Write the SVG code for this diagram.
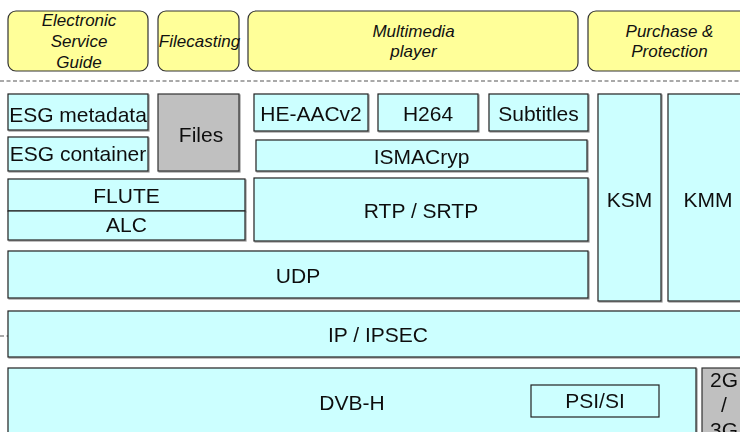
<svg xmlns="http://www.w3.org/2000/svg" width="740" height="432" viewBox="0 0 740 432">
<defs>
<style>
.hdr{fill:#FFFF99;stroke:#333;stroke-width:1.2}
.blk{fill:#CCFFFF;stroke:#222;stroke-width:1.2}
.gry{fill:#C0C0C0;stroke:#333;stroke-width:1.2}
.ht{font-family:"Liberation Sans",Arial,sans-serif;font-size:17px;font-style:italic;fill:#111;text-anchor:middle}
.bt{font-family:"Liberation Sans",Arial,sans-serif;font-size:21px;fill:#111;text-anchor:middle}
.sep{stroke:#555;stroke-width:1.2;stroke-dasharray:4 2.5;fill:none}
</style>
<filter id="sh" x="-5%" y="-5%" width="110%" height="115%">
<feDropShadow dx="1" dy="1" stdDeviation="0.3" flood-color="#777" flood-opacity="0.8"/>
</filter>
</defs>
<rect width="740" height="432" fill="#fff"/>

<g id="connectors">
<line class="sep" x1="0" y1="81" x2="740" y2="81"/>
<line class="sep" x1="0" y1="336" x2="8" y2="336"/>
</g>

<g id="esg-app"><rect class="hdr" x="8" y="11" width="140" height="60" rx="8"/><text class="ht" x="79" y="26">Electronic</text><text class="ht" x="79" y="47">Service</text><text class="ht" x="79" y="68">Guide</text></g>
<g id="filecasting-app"><rect class="hdr" x="158" y="11" width="81" height="60" rx="8"/><text class="ht" x="199.5" y="47">Filecasting</text></g>
<g id="multimedia-app"><rect class="hdr" x="248" y="11" width="330" height="60" rx="8"/><text class="ht" x="413.5" y="36.5">Multimedia</text><text class="ht" x="413.5" y="57">player</text></g>
<g id="purchase-app"><rect class="hdr" x="588" y="11" width="163" height="60" rx="8"/><text class="ht" x="669.5" y="36.5">Purchase &amp;</text><text class="ht" x="669.5" y="57">Protection</text></g>

<g filter="url(#sh)">
<g id="esg-metadata"><rect class="blk" x="8" y="94" width="140" height="36"/><text class="bt" x="78" y="122">ESG metadata</text></g>
<g id="esg-container"><rect class="blk" x="8" y="137" width="140" height="34"/><text class="bt" x="78" y="161">ESG container</text></g>
<g id="files"><rect class="gry" x="158" y="94" width="81" height="77"/><text class="bt" x="201" y="141.5">Files</text></g>
<g id="flute"><rect class="blk" x="8" y="179" width="237" height="32"/><text class="bt" x="126.5" y="202.5">FLUTE</text></g>
<g id="alc"><rect class="blk" x="8" y="211" width="237" height="29"/><text class="bt" x="126.5" y="231.5">ALC</text></g>
<g id="he-aac"><rect class="blk" x="254" y="94" width="114" height="37"/><text class="bt" x="311" y="121">HE-AACv2</text></g>
<g id="h264"><rect class="blk" x="378" y="94" width="100" height="37"/><text class="bt" x="428" y="121">H264</text></g>
<g id="subtitles"><rect class="blk" x="489" y="94" width="99" height="37"/><text class="bt" x="538.5" y="121">Subtitles</text></g>
<g id="ismacryp"><rect class="blk" x="256" y="140" width="331" height="31"/><text class="bt" x="421.5" y="164">ISMACryp</text></g>
<g id="rtp"><rect class="blk" x="254" y="178" width="334" height="63"/><text class="bt" x="421" y="218">RTP / SRTP</text></g>
<g id="ksm"><rect class="blk" x="598" y="94" width="63" height="207"/><text class="bt" x="629.5" y="206.5">KSM</text></g>
<g id="kmm"><rect class="blk" x="668" y="94" width="80" height="207"/><text class="bt" x="708" y="206.5">KMM</text></g>
<g id="udp"><rect class="blk" x="8" y="251" width="580" height="47"/><text class="bt" x="298" y="282.5">UDP</text></g>
<g id="ip"><rect class="blk" x="8" y="311" width="740" height="46"/><text class="bt" x="378" y="341.5">IP / IPSEC</text></g>
<g id="dvbh"><rect class="blk" x="8" y="368" width="688" height="80"/><text class="bt" x="352" y="410">DVB-H</text></g>
<g id="psisi"><rect class="blk" x="531" y="385" width="128" height="32"/><text class="bt" x="595" y="408">PSI/SI</text></g>
<g id="cellular"><rect class="gry" x="702" y="368" width="44" height="80"/><text class="bt" x="724" y="387">2G</text><text class="bt" x="724" y="412">/</text><text class="bt" x="724" y="437">3G</text></g>
</g>
</svg>
